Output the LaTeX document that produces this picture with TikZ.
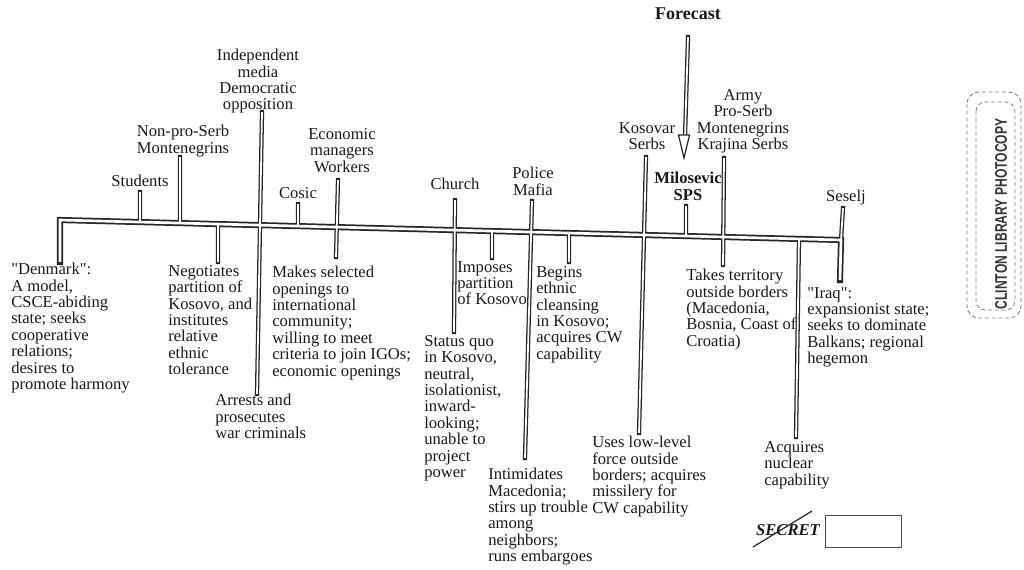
\documentclass[tikz,border=0pt]{standalone}
\usepackage{fontspec}
\setmainfont{Liberation Serif}[Ligatures=TeXOff]
\setsansfont{Liberation Sans}
\usetikzlibrary{calc}
\newcommand\fs{\fontsize{12.45pt}{12.3pt}\selectfont}
\begin{document}
\begin{tikzpicture}[x=0.75pt,y=-0.75pt,
  txt/.style={inner sep=0pt, font=\fs, text=black!90},
  tl/.style={txt, align=center, anchor=north},
  bl/.style={txt, align=left, anchor=north west},
  ink/.style={black!85}]
\useasboundingbox (0,0) rectangle (1024,569);

% ---------- labels above the bar ----------
\node[tl, font=\fontsize{13.5pt}{13pt}\selectfont\bfseries] (forecast) at (688,7) {Forecast};
\node[tl] (indep) at (258,49) {Independent\\media\\Democratic\\opposition};
\node[tl] (nonpro) at (183,125) {Non-pro-Serb\\Montenegrins};
\node[tl] (students) at (140,175) {Students};
\node[tl] (cosic) at (298,187) {Cosic};
\node[tl] (econ) at (342,128) {Economic\\managers\\Workers};
\node[tl] (church) at (455,178) {Church};
\node[tl] (police) at (533,167) {Police\\Mafia};
\node[tl] (kosovar) at (647,122) {Kosovar\\Serbs};
\node[tl, font=\fs\bfseries] (milo) at (688,172) {Milosevic\\SPS};
\node[tl] (army) at (743,89) {Army\\Pro-Serb\\Montenegrins\\Krajina Serbs};
\node[tl] (seselj) at (846,190) {Seselj};

% ---------- labels below the bar ----------
\node[bl] (denmark) at (11,263) {"Denmark":\\A model,\\CSCE-abiding\\state; seeks\\cooperative\\relations;\\desires to\\promote harmony};
\node[bl] (negot) at (168,265) {Negotiates\\partition of\\Kosovo, and\\institutes\\relative\\ethnic\\tolerance};
\node[bl] (arrests) at (215,394) {Arrests and\\prosecutes\\war criminals};
\node[bl] (makes) at (272,266) {Makes selected\\openings to\\international\\community;\\willing to meet\\criteria to join IGOs;\\economic openings};
\node[bl] (imposes) at (457,261) {Imposes\\partition\\of Kosovo};
\node[bl] (status) at (424,335) {Status quo\\in Kosovo,\\neutral,\\isolationist,\\inward-\\looking;\\unable to\\project\\power};
\node[bl] (begins) at (536,266) {Begins\\ethnic\\cleansing\\in Kosovo;\\acquires CW\\capability};
\node[bl] (intim) at (488,468) {Intimidates\\Macedonia;\\stirs up trouble\\among\\neighbors;\\runs embargoes};
\node[bl] (uses) at (592,436) {Uses low-level\\force outside\\borders; acquires\\missilery for\\CW capability};
\node[bl] (takes) at (686,269) {Takes territory\\outside borders\\(Macedonia,\\Bosnia, Coast of\\Croatia)};
\node[bl] (iraq) at (807,287) {"Iraq":\\expansionist state;\\seeks to dominate\\Balkans; regional\\hegemon};
\node[bl] (acq) at (764,441) {Acquires\\nuclear\\capability};

% ---------- bar and tick coordinates ----------
\coordinate (lc1) at (60,262);
\coordinate (lc0) at (60,220);
\coordinate (rc0) at (841,240);
\coordinate (rc1) at (840,280);

\coordinate (fc-t) at (688,37);   \coordinate (fc-b) at (685,137);
\coordinate (stu-t) at (140,192); \coordinate (stu-b) at (140,222);
\coordinate (np-t) at (180,157);  \coordinate (np-b) at (180,223.1);
\coordinate (co-t) at (298,204);  \coordinate (co-b) at (298,226.1);
\coordinate (mi-t) at (686,206);  \coordinate (mi-b) at (686,236);
\coordinate (se-t) at (843,208);
\coordinate (in-t) at (262,112);  \coordinate (in-b) at (257,394);
\coordinate (ec-t) at (338,180);  \coordinate (ec-b) at (336,257);
\coordinate (ch-t) at (455,200);  \coordinate (ch-b) at (454,332);
\coordinate (po-t) at (532,201);  \coordinate (po-b) at (525,458);
\coordinate (ko-t) at (646,157);  \coordinate (ko-b) at (639,433);
\coordinate (ar-t) at (724,158);  \coordinate (ar-b) at (723,265);
\coordinate (ne-t) at (218,224);  \coordinate (ne-b) at (218,262);
\coordinate (im-t) at (492,231.1);\coordinate (im-b) at (492,258);
\coordinate (be-t) at (569,233);  \coordinate (be-b) at (569,262);
\coordinate (ac-t) at (799,238.9);\coordinate (ac-b) at (796,437);

% ---------- hollow (double) lines: dark pass then white pass ----------
\foreach \o/\i/\c/\cp in {4.6pt/3.2pt/black!85/rect, 2pt/1.3pt/white/butt} {
  \draw[line width=\o, draw=\c, line cap=\cp, line join=miter] (lc1) -- (lc0) -- (rc0) -- (rc1);
  \draw[line width=\i, draw=\c, line cap=\cp]
    (fc-t) -- (fc-b)
    (stu-t) -- (stu-b) (np-t) -- (np-b) (co-t) -- (co-b) (mi-t) -- (mi-b) (se-t) -- (rc0)
    (in-t) -- (in-b) (ec-t) -- (ec-b) (ch-t) -- (ch-b) (po-t) -- (po-b)
    (ko-t) -- (ko-b) (ar-t) -- (ar-b)
    (ne-t) -- (ne-b) (im-t) -- (im-b) (be-t) -- (be-b) (ac-t) -- (ac-b);
}

% forecast arrow head (open triangle)
\coordinate (ftip) at (684,158);
\draw[ink, fill=white, line width=0.9pt, line join=miter]
  ($(ftip)+(-5.5,-23)$) -- (ftip) -- ($(ftip)+(5.5,-23)$) -- cycle;

% ---------- SECRET mark ----------
\node[txt, font=\fs\bfseries\itshape] (secret) at (788,530) {SECRET};
\coordinate (st-a) at (753,547);
\coordinate (st-b) at (812,511);
\draw[ink, line width=0.9pt] (st-a) -- (st-b);
\node[draw=black!70, line width=0.6pt, minimum width=57pt, minimum height=24pt, inner sep=0pt] (sbox) at (863,531) {};

% ---------- library stamp ----------
\draw[black!50, line width=0.7pt, densely dashed, rounded corners=9pt] (967,92) rectangle (1021,318);
\draw[black!50, line width=0.6pt, densely dashed, rounded corners=7pt] (976,102) rectangle (1015,310);
\node[rotate=90, inner sep=0pt, text=black!80, font=\sffamily\bfseries\fontsize{12.6pt}{12.6pt}\selectfont] (stamp) at (1001,214) {\scalebox{0.72}[1]{CLINTON LIBRARY PHOTOCOPY}};
\end{tikzpicture}
\end{document}
